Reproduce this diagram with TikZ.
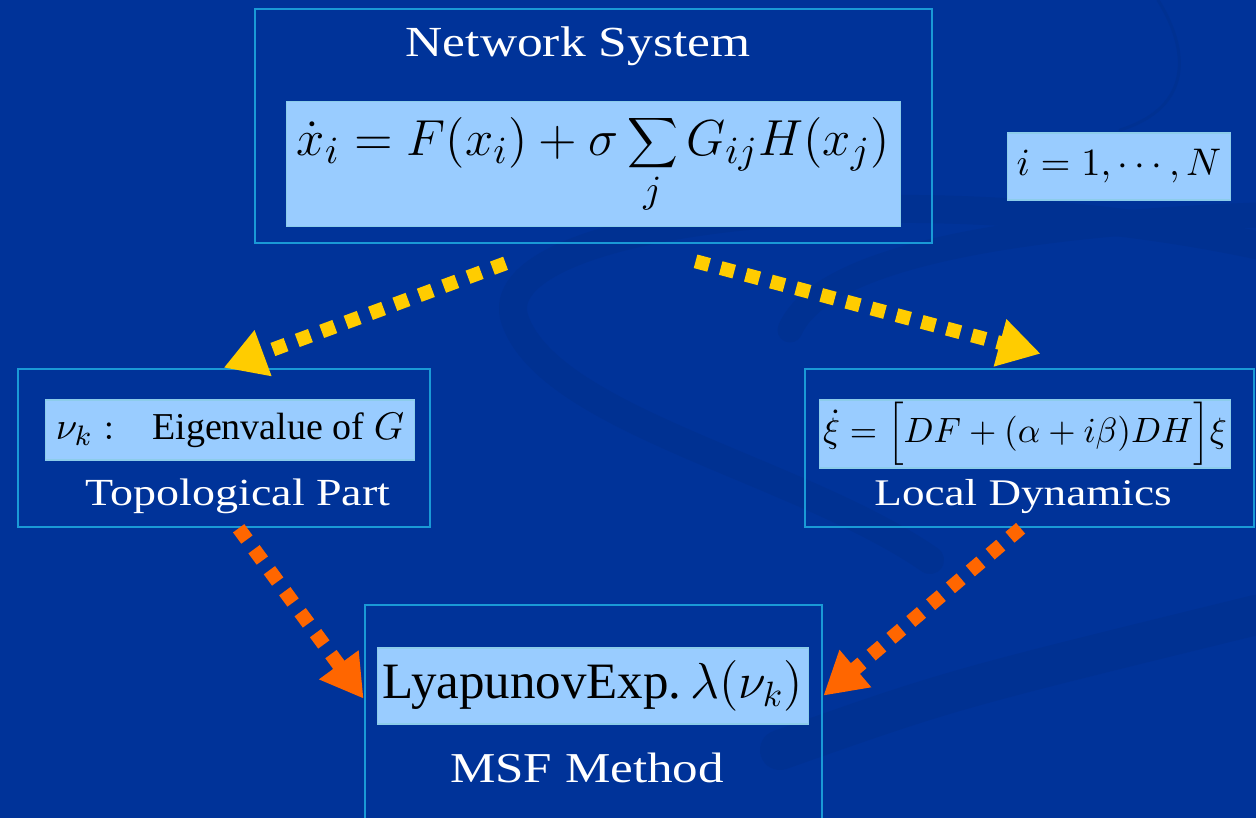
\documentclass[tikz,border=0pt]{standalone}
\usepackage{fontspec}
\setmainfont{Liberation Serif}
\newfontfamily\titlefont[FakeStretch=1.2]{Liberation Serif}
\usetikzlibrary{arrows.meta}
\definecolor{msfbg}{HTML}{003399}
\definecolor{msfswoosh}{HTML}{003192}
\definecolor{msfframe}{HTML}{1A9AD6}
\definecolor{msflight}{HTML}{99CCFF}
\definecolor{msfyellow}{HTML}{FFCC00}
\definecolor{msforange}{HTML}{FF6600}

\begin{document}
\begin{tikzpicture}[x=0.01cm,y=-0.01cm,
  frame/.style={draw=msfframe,line width=0.7pt,inner sep=0},
  eqbox/.style={fill=msflight,draw=msfframe!50,line width=0.3pt,inner sep=0,text=black},
  boxtitle/.style={text=white,inner sep=0},
  swoosh/.style={draw=msfswoosh,line cap=round},
  yarr/.style={draw=msfyellow,line width=0.14cm,dash pattern=on 0.14cm off 0.12cm,
    -{Triangle[length=0.42cm,width=0.46cm,fill=msfyellow]}},
  oarr/.style={draw=msforange,line width=0.14cm,dash pattern=on 0.14cm off 0.12cm,
    -{Triangle[length=0.42cm,width=0.46cm,fill=msforange]}}]
  \clip (0,0) rectangle (1256,818);
  \fill[msfbg] (0,0) rectangle (1256,818);
  % background swooshes
  \draw[swoosh,line width=0.28cm] (1256,245) .. controls (900,170) and (480,220) .. (515,320)
    .. controls (550,420) and (800,470) .. (930,560);
  \draw[swoosh,line width=0.25cm] (790,330) .. controls (820,260) and (1000,225) .. (1256,215);
  \draw[swoosh,line width=0.4cm] (780,750) .. controls (950,690) .. (1256,615);
  \draw[swoosh,line width=0.03cm] (1158,0) .. controls (1195,60) and (1185,110) .. (1120,130);

  % network system
  \node[frame,minimum width=6.77cm,minimum height=2.34cm] (net) at (593.5,126) {};
  \node[boxtitle,font=\titlefont\fontsize{12.2}{14}\selectfont] (nettitle) at (578,46) {Network System};
  \node[eqbox,minimum width=6.13cm,minimum height=1.24cm,font=\fontsize{15}{18}\selectfont]
    (neteq) at (593.5,164) {$\displaystyle\dot{x}_i = F(x_i)+\sigma\sum_{j} G_{ij}H(x_j)$};
  \node[eqbox,minimum width=2.22cm,minimum height=0.67cm,font=\fontsize{11}{13}\selectfont]
    (range) at (1119,166.5) {$i=1,\cdots,N$};

  % topological part
  \node[frame,minimum width=4.12cm,minimum height=1.58cm] (topo) at (224,448) {};
  \node[eqbox,minimum width=3.68cm,minimum height=0.60cm,font=\fontsize{10.8}{12}\selectfont]
    (topoeq) at (230,430) {$\nu_k:$\quad Eigenvalue of $G$};
  \node[boxtitle,font=\titlefont\fontsize{10.9}{13}\selectfont] (topotitle) at (238,496) {Topological Part};

  % local dynamics
  \node[frame,minimum width=4.49cm,minimum height=1.58cm] (dyn) at (1029.5,448) {};
  \node[eqbox,minimum width=4.10cm,minimum height=0.68cm,font=\fontsize{9.8}{11}\selectfont]
    (dyneq) at (1025,434) {$\dot{\xi}=\Bigl[DF+(\alpha+i\beta)DH\Bigr]\xi$};
  \node[boxtitle,font=\titlefont\fontsize{10.7}{13}\selectfont] (dyntitle) at (1023,497) {Local Dynamics};

  % msf method
  \node[frame,minimum width=4.57cm,minimum height=2.40cm] (msf) at (593.5,725) {};
  \node[eqbox,minimum width=4.30cm,minimum height=0.76cm,font=\fontsize{14.5}{17}\selectfont]
    (msfeq) at (593,686) {LyapunovExp.\,$\lambda(\nu_k)$};
  \node[boxtitle,font=\titlefont\fontsize{12.1}{15}\selectfont] (msftitle) at (587,768) {MSF Method};

  % arrows
  \draw[yarr] ([shift={(252,19)}]net.south west) -- ([shift={(207,0)}]topo.north west);
  \draw[yarr] ([shift={(442,17)}]net.south west) -- ([shift={(237,-14)}]dyn.north west);
  \draw[oarr] ([shift={(222,0)}]topo.south west) -- ([shift={(0,95)}]msf.north west);
  \draw[oarr] ([shift={(217,0)}]dyn.south west) -- ([shift={(0,92)}]msf.north east);
\end{tikzpicture}
\end{document}
